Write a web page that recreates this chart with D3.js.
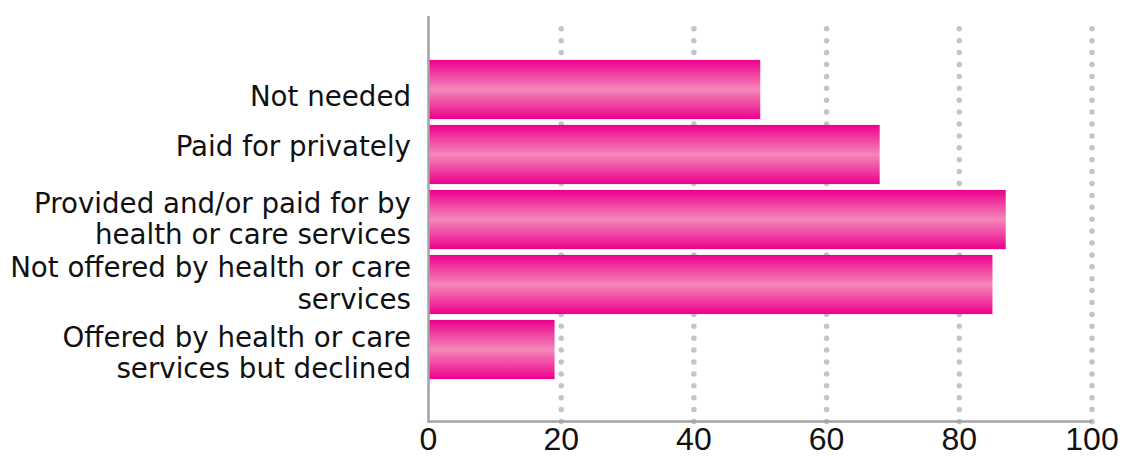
<!DOCTYPE html>
<html><head><meta charset="utf-8">
<script src="https://cdn.jsdelivr.net/npm/d3@7"></script>
<style>body{margin:0;background:#fff}svg{display:block}</style>
</head><body>
<svg id="c" width="1124" height="457"></svg>
<script>
const categories = [
  ["Not needed"],
  ["Paid for privately"],
  ["Provided and/or paid for by","health or care services"],
  ["Not offered by health or care","services"],
  ["Offered by health or care","services but declined"]
];
const values = [50, 68, 87, 85, 19];
const xTicks = [0, 20, 40, 60, 80, 100];

// layout: baseline offset of first label line from bar centre
const labelDy = [16.5, 1, -7, -7.5, -3];
const lineH = 31.5;

const svg = d3.select("#c");
const x = d3.scaleLinear().domain([0,100]).range([428.5,1092]);
const y = d3.scaleBand().domain(d3.range(categories.length)).range([57,382]).paddingInner(0.09).paddingOuter(0.045);
const yTop = 16, yBot = 421.5;

const defs = svg.append("defs");
const g = defs.append("linearGradient").attr("id","bg").attr("x1",0).attr("x2",0).attr("y1",0).attr("y2",1);
g.append("stop").attr("offset","0%").attr("stop-color","#ec008c");
g.append("stop").attr("offset","50%").attr("stop-color","#f488b9");
g.append("stop").attr("offset","100%").attr("stop-color","#ec008c");

// grid
svg.append("g").selectAll("line").data(xTicks.filter(d=>d>0)).join("line")
  .attr("x1",d=>x(d)).attr("x2",d=>x(d)).attr("y1",yBot).attr("y2",yTop+2)
  .attr("stroke","#c4c4c6").attr("stroke-width",5.5).attr("stroke-linecap","round")
  .attr("stroke-dasharray","0 11.9");

// bars
svg.append("g").selectAll("rect").data(values).join("rect")
  .attr("x",x(0)).attr("y",(d,i)=>y(i)).attr("width",d=>x(d)-x(0)).attr("height",y.bandwidth())
  .attr("fill","url(#bg)");

// axes lines
svg.append("line").attr("x1",x(0)).attr("x2",x(0)).attr("y1",yTop).attr("y2",yBot+1)
  .attr("stroke","#a3a3a5").attr("stroke-width",2.5);
svg.append("line").attr("x1",x(0)-1).attr("x2",x(100)).attr("y1",yBot).attr("y2",yBot)
  .attr("stroke","#a3a3a5").attr("stroke-width",2.5);

// x tick labels
svg.append("g").selectAll("text").data(xTicks).join("text")
  .attr("x",d=>x(d)).attr("y",450).attr("text-anchor","middle")
  .attr("font-family","'Liberation Sans',Arial,sans-serif")
  .attr("font-size",32).attr("fill","#111").text(d=>d);

// category labels
const lab = svg.append("g").selectAll("text").data(categories).join("text")
  .attr("text-anchor","end").attr("font-size",27.7).attr("fill","#111")
  .attr("font-family","'DejaVu Sans',sans-serif");
lab.each(function(lines,i){
  const c = y(i)+y.bandwidth()/2;
  const t = d3.select(this);
  lines.forEach((l,j)=>t.append("tspan").attr("x",411).attr("y",c+labelDy[i]+j*lineH).text(l));
});
</script>
</body></html>
